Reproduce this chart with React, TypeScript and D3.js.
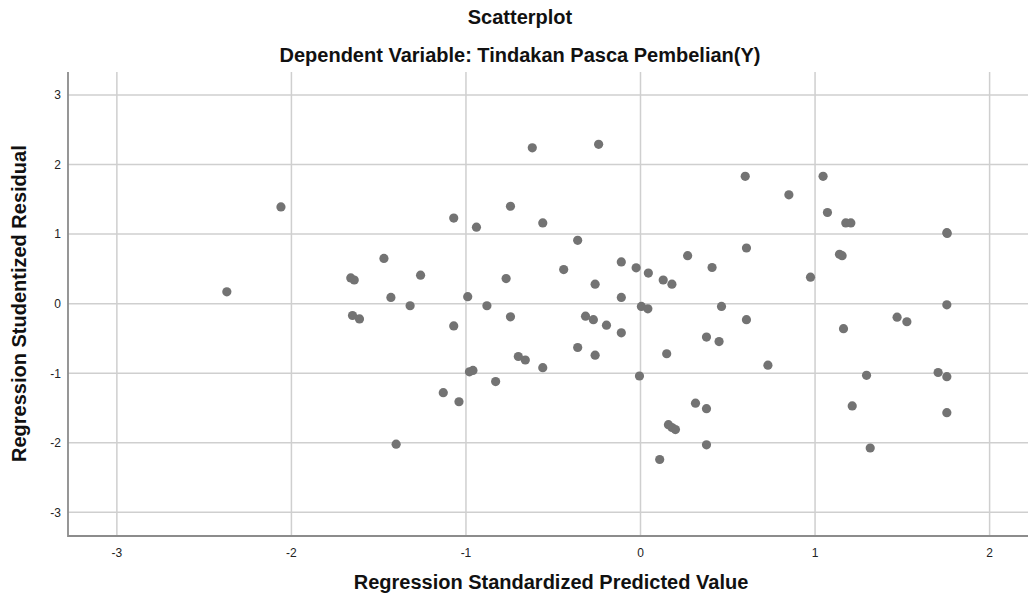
import React, { useEffect, useRef } from "react";
import * as d3 from "d3";

// Regression standardized predicted value (x) vs studentized residual (y)
const predicted = [
  -2.37, -2.06, -1.66, -1.64, -1.65, -1.61, -1.47, -1.43, -1.40, -1.32,
  -1.26, -1.13, -1.07, -1.07, -1.04, -0.99, -0.98, -0.96, -0.94, -0.88,
  -0.83, -0.77, -0.745, -0.745, -0.70, -0.66, -0.62, -0.56, -0.56, -0.44,
  -0.36, -0.36, -0.315, -0.27, -0.26, -0.26, -0.24, -0.195, -0.11, -0.11,
  -0.11, -0.025, 0.005, -0.006, 0.045, 0.042, 0.11, 0.13, 0.15, 0.18,
  0.16, 0.18, 0.20, 0.27, 0.315, 0.378, 0.378, 0.378, 0.41, 0.45,
  0.464, 0.60, 0.607, 0.607, 0.73, 0.85, 0.974, 1.046, 1.071, 1.14,
  1.155, 1.163, 1.176, 1.205, 1.213, 1.295, 1.316, 1.47, 1.526, 1.705,
  1.755, 1.757, 1.755, 1.755, 1.755,
];
const residual = [
  0.17, 1.39, 0.37, 0.34, -0.17, -0.22, 0.65, 0.09, -2.02, -0.03,
  0.41, -1.28, 1.23, -0.32, -1.41, 0.10, -0.98, -0.96, 1.10, -0.03,
  -1.12, 0.36, 1.40, -0.19, -0.76, -0.81, 2.24, 1.16, -0.92, 0.49,
  0.91, -0.63, -0.18, -0.23, 0.28, -0.74, 2.29, -0.31, 0.60, 0.09,
  -0.42, 0.515, -0.04, -1.04, 0.44, -0.075, -2.24, 0.34, -0.72, 0.28,
  -1.74, -1.78, -1.81, 0.69, -1.43, -0.48, -1.51, -2.03, 0.52, -0.545,
  -0.04, 1.83, 0.80, -0.23, -0.885, 1.565, 0.38, 1.83, 1.31, 0.71,
  0.69, -0.36, 1.16, 1.16, -1.47, -1.03, -2.075, -0.195, -0.26, -0.99,
  1.02, 1.01, -0.017, -1.05, -1.567,
];

const xTicks = [-3, -2, -1, 0, 1, 2];
const yTicks = [-3, -2, -1, 0, 1, 2, 3];

const title = "Scatterplot";
const subtitle = "Dependent Variable: Tindakan Pasca Pembelian(Y)";
const xLabel = "Regression Standardized Predicted Value";
const yLabel = "Regression Studentized Residual";

export default function App() {
  const svgRef = useRef<SVGSVGElement>(null);

  useEffect(() => {
    const width = 1030,
      height = 600;
    const left = 68,
      right = 1028,
      top = 72,
      bottom = 536;

    const gridColor = "#cfcfcf",
      axisColor = "#8c8c8c",
      dotColor = "#737373";
    const font = "'Liberation Sans', Arial, sans-serif";

    const svg = d3
      .select(svgRef.current)
      .attr("width", width)
      .attr("height", height)
      .html("");

    svg.append("rect").attr("width", width).attr("height", height).attr("fill", "#fff");

    const x = d3.scaleLinear().domain([-3.28, 2.22]).range([left, right]);
    const y = d3.scaleLinear().domain([-3.34, 3.33]).range([bottom, top]);

    // grid lines
    const grid = svg.append("g");
    grid
      .selectAll("line.v")
      .data(xTicks)
      .enter()
      .append("line")
      .attr("x1", (d) => x(d))
      .attr("x2", (d) => x(d))
      .attr("y1", top)
      .attr("y2", bottom)
      .attr("stroke", gridColor)
      .attr("stroke-width", 1.5);
    grid
      .selectAll("line.h")
      .data(yTicks)
      .enter()
      .append("line")
      .attr("x1", left)
      .attr("x2", right)
      .attr("y1", (d) => y(d))
      .attr("y2", (d) => y(d))
      .attr("stroke", gridColor)
      .attr("stroke-width", 1.5);

    // axis lines
    svg
      .append("path")
      .attr("d", `M${left},${top}V${bottom}H${right}`)
      .attr("fill", "none")
      .attr("stroke", axisColor)
      .attr("stroke-width", 1.8);

    // tick labels
    svg
      .append("g")
      .selectAll("text")
      .data(yTicks)
      .enter()
      .append("text")
      .attr("x", 61)
      .attr("y", (d) => y(d))
      .attr("dy", "0.36em")
      .attr("text-anchor", "end")
      .style("font-family", font)
      .style("font-size", "12px")
      .style("fill", "#222")
      .text((d) => d);

    svg
      .append("g")
      .selectAll("text")
      .data(xTicks)
      .enter()
      .append("text")
      .attr("x", (d) => x(d))
      .attr("y", 557)
      .attr("text-anchor", "middle")
      .style("font-family", font)
      .style("font-size", "12px")
      .style("fill", "#222")
      .text((d) => d);

    // points
    svg
      .append("g")
      .selectAll("circle")
      .data(predicted.map((p, i) => [p, residual[i]]))
      .enter()
      .append("circle")
      .attr("cx", (d) => x(d[0]))
      .attr("cy", (d) => y(d[1]))
      .attr("r", 4.6)
      .attr("fill", dotColor);

    // titles
    const bigText = (sel: any) =>
      sel
        .attr("text-anchor", "middle")
        .style("font-family", font)
        .style("font-size", "20px")
        .style("font-weight", "bold")
        .style("fill", "#111");

    svg.append("text").attr("x", 520).attr("y", 24).call(bigText).text(title);
    svg.append("text").attr("x", 520).attr("y", 62).call(bigText).text(subtitle);
    svg.append("text").attr("x", 551).attr("y", 589).call(bigText).text(xLabel);
    svg
      .append("text")
      .attr("transform", `translate(26,${y(0)}) rotate(-90)`)
      .call(bigText)
      .text(yLabel);
  }, []);

  return <svg ref={svgRef} style={{ position: "absolute", left: 0, top: 0 }}></svg>;
}
